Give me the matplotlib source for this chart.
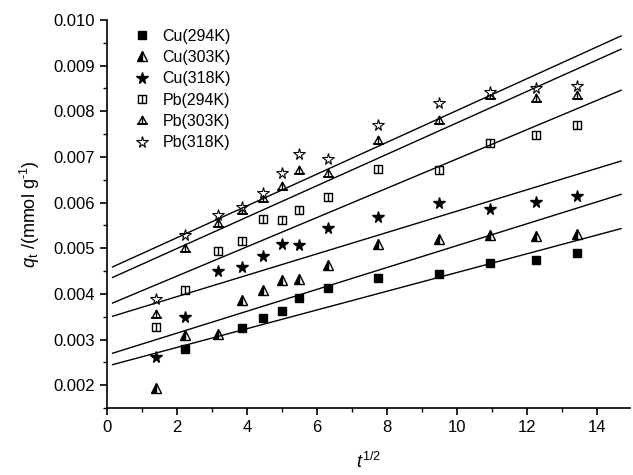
import numpy as np
import matplotlib
matplotlib.use("Agg")
import matplotlib.pyplot as plt
from matplotlib.path import Path
from matplotlib.ticker import MultipleLocator, FormatStrFormatter

plt.rcParams['font.family'] = ['Liberation Sans', 'DejaVu Sans']
plt.rcParams['mathtext.fontset'] = 'custom'
plt.rcParams['mathtext.rm'] = 'Liberation Sans'
plt.rcParams['mathtext.it'] = 'Liberation Sans:italic'

# x = t^(1/2)
x_vals = [1.41, 2.24, 3.16, 3.87, 4.47, 5.00, 5.48, 6.32, 7.75, 9.49, 10.95, 12.25, 13.42]
nan = np.nan
cu_294 = [nan, 0.00280, nan, 0.00326, 0.00348, 0.00362, 0.00390, 0.00412, 0.00434, 0.00443, 0.00468, 0.00474, 0.00490]
cu_303 = [0.00193, 0.00311, 0.00312, 0.00386, 0.00408, 0.00430, 0.00432, 0.00463, 0.00509, 0.00521, 0.00529, 0.00526, 0.00532]
cu_318 = [0.00262, 0.00349, 0.00451, 0.00458, 0.00484, 0.00510, 0.00508, 0.00544, 0.00568, 0.00598, 0.00587, 0.00602, 0.00614]
pb_294 = [0.00328, 0.00409, 0.00494, 0.00515, 0.00563, 0.00561, 0.00583, 0.00613, 0.00674, 0.00671, 0.00731, 0.00748, 0.00771]
pb_303 = [0.00356, 0.00501, 0.00555, 0.00583, 0.00610, 0.00637, 0.00671, 0.00664, 0.00736, 0.00781, 0.00835, 0.00828, 0.00836]
pb_318 = [0.00388, 0.00530, 0.00573, 0.00590, 0.00620, 0.00665, 0.00706, 0.00696, 0.00770, 0.00818, 0.00843, 0.00850, 0.00856]

labels = ['Cu(294K)', 'Cu(303K)', 'Cu(318K)', 'Pb(294K)', 'Pb(303K)', 'Pb(318K)']

# fitted straight lines: x range and end values
fit_x = [0.16, 14.69]
fit_start = [0.00245, 0.00270, 0.00351, 0.00380, 0.00436, 0.00459]
fit_end = [0.00543, 0.00618, 0.00691, 0.00846, 0.00936, 0.00965]

# custom markers
sq_line = Path([(-1, -1), (1, -1), (1, 1), (-1, 1), (-1, -1), (0, -1), (0, 1)],
               [Path.MOVETO, Path.LINETO, Path.LINETO, Path.LINETO, Path.CLOSEPOLY,
                Path.MOVETO, Path.LINETO])
tri_line = Path([(-1, -0.8), (1, -0.8), (0, 1), (-1, -0.8), (0, 1), (0, -0.8), (-1.3, -0.8), (1.3, -0.8)],
                [Path.MOVETO, Path.LINETO, Path.LINETO, Path.CLOSEPOLY,
                 Path.MOVETO, Path.LINETO, Path.MOVETO, Path.LINETO])

styles = [
    dict(marker='s', ms=5.5, mfc='black', mec='black', fillstyle='full'),
    dict(marker='^', ms=7, mfc='black', mec='black', fillstyle='left', markerfacecoloralt='white'),
    dict(marker='*', ms=8.5, mfc='black', mec='black'),
    dict(marker=sq_line, ms=6, mfc='white', mec='black', mew=1.0),
    dict(marker=tri_line, ms=8, mfc='white', mec='black', mew=1.0),
    dict(marker='*', ms=8.5, mfc='white', mec='black', mew=0.8),
]

series = [cu_294, cu_303, cu_318, pb_294, pb_303, pb_318]

fig = plt.figure(figsize=(6.33, 4.75), dpi=100)
ax = fig.add_axes([0.169, 0.141, 0.826, 0.817])

for ys, lab, st in zip(series, labels, styles):
    ax.plot(x_vals, ys, linestyle='none', label=lab, **st)

for s, e in zip(fit_start, fit_end):
    ax.plot(fit_x, [s, e], color='black', lw=1.0)

ax.set_xlim(0, 14.94)
ax.set_ylim(0.0015, 0.010)
ax.spines['top'].set_visible(False)
ax.spines['right'].set_visible(False)
ax.spines['left'].set_linewidth(1.2)
ax.spines['bottom'].set_linewidth(1.2)

ax.xaxis.set_major_locator(MultipleLocator(2))
ax.xaxis.set_minor_locator(MultipleLocator(1))
ax.yaxis.set_major_locator(MultipleLocator(0.001))
ax.yaxis.set_minor_locator(MultipleLocator(0.0005))
ax.yaxis.set_major_formatter(FormatStrFormatter('%.3f'))
ax.tick_params(which='major', direction='out', length=5, width=1.2, labelsize=12)
ax.tick_params(which='minor', direction='out', length=3, width=1.0)

ax.set_xlabel(r'$t^{1/2}$', fontsize=13, labelpad=12)
ax.set_ylabel(r'$q_{\rm t}$ /(mmol g$^{\rm{-1}}$)'.replace('-', '\u2010'), fontsize=13, labelpad=8)

ax.legend(loc='upper left', bbox_to_anchor=(0.025, 1.015), frameon=False, fontsize=11.5,
          handlelength=1.0, handletextpad=0.75, labelspacing=0.4, numpoints=1)

fig.savefig('out.png', dpi=100)
